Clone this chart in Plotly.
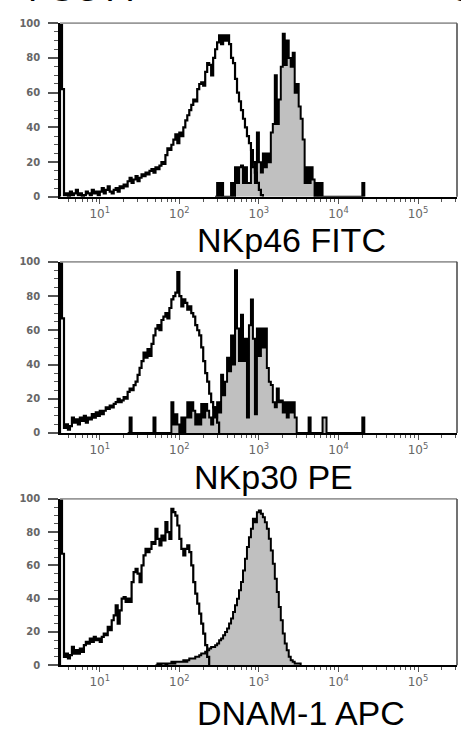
import math
import plotly.graph_objects as go

# Channel grid (log10 of fluorescence intensity), 0.025-decade bins
GRID = [
    0.500, 0.525, 0.550, 0.575, 0.600, 0.625, 0.650, 0.675, 0.700, 0.725,
    0.750, 0.775, 0.800, 0.825, 0.850, 0.875, 0.900, 0.925, 0.950, 0.975,
    1.000, 1.025, 1.050, 1.075, 1.100, 1.125, 1.150, 1.175, 1.200, 1.225,
    1.250, 1.275, 1.300, 1.325, 1.350, 1.375, 1.400, 1.425, 1.450, 1.475,
    1.500, 1.525, 1.550, 1.575, 1.600, 1.625, 1.650, 1.675, 1.700, 1.725,
    1.750, 1.775, 1.800, 1.825, 1.850, 1.875, 1.900, 1.925, 1.950, 1.975,
    2.000, 2.025, 2.050, 2.075, 2.100, 2.125, 2.150, 2.175, 2.200, 2.225,
    2.250, 2.275, 2.300, 2.325, 2.350, 2.375, 2.400, 2.425, 2.450, 2.475,
    2.500, 2.525, 2.550, 2.575, 2.600, 2.625, 2.650, 2.675, 2.700, 2.725,
    2.750, 2.775, 2.800, 2.825, 2.850, 2.875, 2.900, 2.925, 2.950, 2.975,
    3.000, 3.025, 3.050, 3.075, 3.100, 3.125, 3.150, 3.175, 3.200, 3.225,
    3.250, 3.275, 3.300, 3.325, 3.350, 3.375, 3.400, 3.425, 3.450, 3.475,
    3.500, 3.525, 3.550, 3.575, 3.600, 3.625, 3.650, 3.675, 3.700, 3.725,
    3.750, 3.775, 3.800, 3.825, 3.850, 3.875, 3.900, 3.925, 3.950, 3.975,
    4.000, 4.025, 4.050, 4.075, 4.100, 4.125, 4.150, 4.175, 4.200, 4.225,
    4.250, 4.275, 4.300, 4.325, 4.350, 4.375, 4.400,
]

TITLES = ["NKp46 FITC", "NKp30 PE", "DNAM-1 APC"]
Y_TICKS = [0, 20, 40, 60, 80, 100]
X_TICKS = [1, 2, 3, 4, 5]
X_TICK_TEXT = ["10<sup>1</sup>", "10<sup>2</sup>", "10<sup>3</sup>", "10<sup>4</sup>", "10<sup>5</sup>"]

# ---- Panel 1: NKp46 FITC ----
P1_ISO_START = 0.500
P1_ISO = [
    99, 62, 1, 2, 0, 3, 1, 2, 4, 1, 2, 0, 1, 3, 2, 1, 4, 2, 3, 1,
    3, 5, 2, 4, 6, 3, 2, 4, 5, 3, 6, 5, 7, 6, 9, 11, 8, 10, 12, 9,
    11, 13, 12, 14, 13, 15, 16, 14, 17, 16, 18, 20, 19, 24, 28, 27, 30, 33, 36, 31,
    37, 35, 40, 44, 47, 50, 53, 56, 55, 62, 65, 66, 64, 72, 77, 76, 70, 80, 85, 89,
    93, 88, 93, 90, 93, 88, 80, 77, 68, 60, 55, 50, 45, 40, 35, 31, 27, 20, 14, 8,
    4, 1, 0,
]
P1_POS_START = 2.450
P1_POS = [
    0, 8, 0, 8, 0, 0, 0, 0, 8, 0, 17, 8, 17, 18, 8, 17, 8, 8, 26, 17,
    8, 37, 20, 14, 25, 17, 25, 20, 37, 42, 70, 42, 56, 75, 94, 76, 90, 80, 75, 83,
    60, 65, 52, 45, 33, 8, 17, 8, 17, 10, 0, 8, 0, 8, 0,
    0, 0, 0, 0, 0, 0, 0, 0, 0, 0, 0, 0, 0, 0, 0, 0, 0, 0, 0,
    8, 0,
]

# ---- Panel 2: NKp30 PE ----
P2_ISO_START = 0.500
P2_ISO = [
    100, 67, 3, 5, 2, 4, 9, 6, 8, 5, 9, 7, 10, 6, 9, 8, 11, 9, 12, 10,
    13, 11, 13, 15, 14, 16, 15, 17, 18, 20, 18, 19, 21, 20, 24, 26, 25, 28, 30, 34,
    38, 42, 47, 44, 49, 45, 52, 57, 61, 63, 60, 66, 68, 70, 67, 73, 78, 80, 82, 94,
    80, 74, 78, 76, 72, 74, 70, 68, 63, 60, 57, 50, 42, 35, 30, 23, 18, 15, 12, 6,
    0,
]
P2_POS_START = 1.350
P2_POS = [
    0, 9, 0,
    0, 0, 0, 0, 0, 0, 0, 0, 0, 0,
    9, 0,
    0, 0, 0, 0, 0, 0, 0,
    18, 5, 11, 5, 0, 9, 0, 9, 18, 9, 18, 13, 5, 11, 5, 17, 9, 17, 13, 9,
    5, 15, 9, 18, 12, 34, 22, 30, 44, 36, 57, 40, 95, 61, 42, 69, 42, 55, 9, 63,
    78, 55, 11, 61, 45, 61, 50, 61, 38, 30, 28, 18, 15, 26, 18, 19, 12, 18, 9, 18,
    12, 18, 9, 0,
    0, 0, 0, 0, 0,
    9, 0,
    0, 0, 0, 0, 0,
    9, 9, 0,
    0, 0, 0, 0, 0, 0, 0, 0, 0, 0, 0, 0, 0, 0, 0, 0, 0,
    9, 0,
]

# ---- Panel 3: DNAM-1 APC ----
P3_ISO_START = 0.500
P3_ISO = [
    100, 67, 5, 7, 4, 6, 11, 7, 9, 7, 10, 8, 12, 14, 13, 16, 14, 17, 15, 16,
    14, 17, 19, 18, 23, 21, 27, 30, 36, 25, 33, 40, 41, 38, 40, 38, 50, 56, 58, 55,
    50, 60, 66, 70, 68, 70, 74, 73, 82, 76, 72, 78, 75, 86, 80, 76, 94, 92, 90, 84,
    76, 70, 66, 70, 72, 68, 60, 50, 43, 37, 31, 25, 19, 12, 5, 0,
]
P3_POS_START = 1.700
P3_POS = [
    0, 1, 0, 1, 1, 0, 1, 1, 2, 1, 2, 2, 2, 2, 3, 2, 3, 4, 4, 4,
    5, 5, 6, 7, 7, 8, 9, 10, 11, 11, 12, 13, 15, 16, 18, 20, 22, 25, 28, 32,
    36, 40, 45, 50, 57, 64, 71, 77, 82, 88, 86, 92, 93, 91, 89, 86, 82, 76, 69, 61,
    52, 44, 35, 27, 19, 13, 9, 5, 3, 2, 1, 1, 1, 0,
]

PANELS = [
    (P1_ISO_START, P1_ISO, P1_POS_START, P1_POS),
    (P2_ISO_START, P2_ISO, P2_POS_START, P2_POS),
    (P3_ISO_START, P3_ISO, P3_POS_START, P3_POS),
]

W, H = 461, 742
# panel plot rectangles in pixels: (top, bottom)
PANEL_PX = [(17.5, 194.0), (260.0, 434.0), (501.0, 670.0)]
X_PX = (60.0, 457.0)
TITLE_POS = [(195, 238), (192, 479), (195, 719)]

BLACK = "#000000"
FILL = "#c0c0c0"
TICK_COL = "#555555"
LABEL_COL = "#666666"

minor_x = [n + math.log10(k) for n in range(0, 6) for k in range(2, 10)]
minor_x = [v for v in minor_x if 0.5 < v < 5.49]

fig = go.Figure()

for i, (iso_start, iso, pos_start, pos) in enumerate(PANELS):
    sfx = "" if i == 0 else str(i + 1)
    xref, yref = "x" + sfx, "y" + sfx

    i0 = GRID.index(pos_start)
    fig.add_trace(go.Scatter(
        x=GRID[i0:i0 + len(pos)], y=pos, mode="lines",
        line=dict(shape="hv", color=BLACK, width=2.0),
        fill="tozeroy", fillcolor=FILL,
        xaxis=xref, yaxis=yref, showlegend=False, hoverinfo="skip"))

    j0 = GRID.index(iso_start)
    fig.add_trace(go.Scatter(
        x=[iso_start] + GRID[j0:j0 + len(iso)], y=[0] + iso, mode="lines",
        line=dict(shape="hv", color=BLACK, width=2.2),
        xaxis=xref, yaxis=yref, showlegend=False, hoverinfo="skip"))

    top, bot = PANEL_PX[i]
    fig.layout["xaxis" + sfx] = dict(
        domain=[X_PX[0] / W, X_PX[1] / W], range=[0.5, 5.49], anchor=yref,
        showgrid=False, zeroline=False, showline=True, linecolor=BLACK, linewidth=1.5,
        tickmode="array", tickvals=X_TICKS, ticktext=X_TICK_TEXT,
        ticks="outside", ticklen=5, tickwidth=1.2, tickcolor=TICK_COL,
        tickfont=dict(family="DejaVu Sans", size=12, color=LABEL_COL),
        minor=dict(tickmode="array", tickvals=minor_x, ticks="outside",
                   ticklen=3, tickwidth=1, tickcolor=TICK_COL),
    )
    fig.layout["yaxis" + sfx] = dict(
        domain=[1 - bot / H, 1 - top / H], range=[0, 100], anchor=xref,
        showgrid=False, zeroline=False, showline=True, linecolor=BLACK, linewidth=1.5,
        tickmode="array", tickvals=Y_TICKS,
        ticks="outside", ticklen=10, tickwidth=1.5, tickcolor=TICK_COL,
        ticklabelstandoff=6,
        tickfont=dict(family="DejaVu Sans", size=10, color=LABEL_COL, weight="bold"),
        minor=dict(dtick=5, ticks="outside", ticklen=4, tickwidth=1, tickcolor=TICK_COL),
    )
    # top and right frame lines
    fig.add_shape(type="line", xref=xref + " domain", yref=yref + " domain",
                  x0=0, x1=1, y0=1, y1=1, line=dict(color="#999999", width=1.8))
    fig.add_shape(type="line", xref=xref + " domain", yref=yref + " domain",
                  x0=1, x1=1, y0=0, y1=1, line=dict(color="#444444", width=1.5))

    tx, ty = TITLE_POS[i]
    fig.add_annotation(text=TITLES[i], xref="paper", yref="paper",
                       x=tx / W, y=1 - ty / H, xanchor="left", yanchor="middle",
                       showarrow=False,
                       font=dict(family="Liberation Sans", size=34, color=BLACK))

# partially visible labels cut at the top edge
fig.add_annotation(text="FSC A", xref="paper", yref="paper", x=26 / W, y=1 - 5 / H,
                   xanchor="left", yanchor="bottom", showarrow=False,
                   font=dict(family="Liberation Sans", size=36, color=BLACK))
fig.add_annotation(text="C", xref="paper", yref="paper", x=447 / W, y=1 - 5 / H,
                   xanchor="left", yanchor="bottom", showarrow=False,
                   font=dict(family="Liberation Sans", size=36, color=BLACK))

fig.update_layout(width=W, height=H, margin=dict(l=0, r=0, t=0, b=0),
                  paper_bgcolor="white", plot_bgcolor="white", showlegend=False)

fig.write_html(
    "out.html",
    config={"displayModeBar": False},
    post_script="document.body.style.margin='0';document.body.style.padding='0';"
                "document.body.style.overflow='hidden';",
)
